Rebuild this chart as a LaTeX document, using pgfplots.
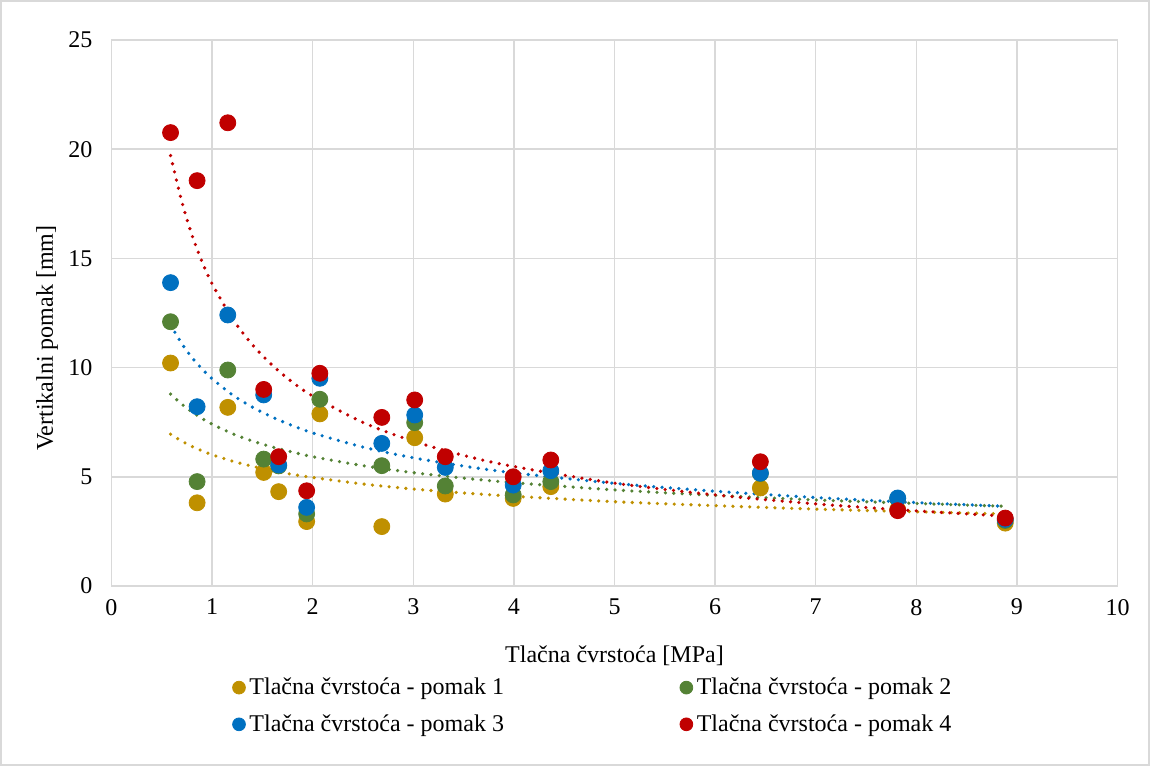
\documentclass[border=0pt]{standalone}
\usepackage{fontspec}
\setmainfont{Liberation Serif}
\usepackage{pgfplots}
\usepackage{pgfplotstable}
\pgfplotsset{compat=1.18}
\definecolor{cA}{HTML}{BF9000}
\definecolor{cB}{HTML}{548235}
\definecolor{cC}{HTML}{0070C0}
\definecolor{cD}{HTML}{C00000}
\definecolor{gridc}{HTML}{D9D9D9}

\pgfplotstableread{
x y1 y2 y3 y4
0.587 10.21 12.10 13.89 20.76
0.851 3.81 4.78 8.21 18.56
1.156 8.18 9.89 12.41 21.21
1.513 5.20 5.81 8.75 9.00
1.662 4.32 5.50 5.54 5.92
1.940 2.95 3.30 3.60 4.36
2.071 7.88 8.55 9.51 9.74
2.687 2.72 5.51 6.53 7.72
3.014 6.79 7.48 7.83 8.52
3.318 4.21 4.58 5.43 5.92
3.993 4.01 4.17 4.62 5.00
4.367 4.55 4.78 5.28 5.77
6.450 4.49 5.15 5.17 5.69
7.815 3.50 4.00 4.03 3.45
8.884 2.88 3.00 3.05 3.11
}\pts

\pgfplotstableread{
x t1 t2 t3 t4
0.587 6.95 8.79 11.95 19.71
0.7 6.63 8.32 11.09 17.58
0.8 6.39 7.97 10.46 16.07
0.9 6.19 7.67 9.94 14.85
1.0 6.01 7.41 9.49 13.84
1.2 5.72 6.98 8.76 12.25
1.4 5.48 6.64 8.19 11.05
1.6 5.28 6.36 7.73 10.10
1.8 5.11 6.13 7.34 9.33
2.0 4.97 5.92 7.01 8.70
2.5 4.67 5.51 6.36 7.49
3.0 4.44 5.19 5.87 6.63
3.5 4.26 4.94 5.49 5.98
4.0 4.11 4.73 5.18 5.47
5.0 3.86 4.40 4.70 4.71
6.0 3.68 4.15 4.34 4.17
7.0 3.52 3.94 4.05 3.76
8.0 3.40 3.78 3.82 3.44
8.884 3.30 3.65 3.65 3.20
}\trend

\begin{document}
\begin{tikzpicture}[font=\fontsize{12}{14.4}\selectfont]
\begin{axis}[
  scale only axis,
  width=503pt, height=273pt,
  xmin=0, xmax=10, ymin=0, ymax=25,
  xtick={0,1,...,10}, ytick={0,5,...,25},
  grid=major,
  major grid style={gridc, line width=0.75pt},
  axis line style={gridc, line width=0.75pt},
  major tick length=0pt,
  tick label style={/pgf/number format/assume math mode=true},
  yticklabel style={xshift=-6pt},
  xticklabel style={yshift=-3pt},
  xlabel={Tlačna čvrstoća [MPa]},
  ylabel={Vertikalni pomak [mm]},
  xlabel style={at={(axis description cs:0.5,-0.127)}, anchor=center},
  ylabel style={at={(axis description cs:-0.0641,0.454)}, anchor=center},
  legend columns=2,
  legend style={draw=none, fill=none, inner sep=0pt,
    at={(axis description cs:0.12,-0.16)}, anchor=north west,
    /tikz/every even column/.append style={column sep=86pt},
    row sep=4.5pt},
  legend image code/.code={\draw[#1, mark size=3.2pt] plot coordinates {(0.1cm,0cm)};},
  legend cell align=left,
]
\addplot[only marks, mark=*, mark size=4pt, mark options={fill=cA, draw=cA}] table[x=x,y=y1]{\pts};
\addlegendentry{Tlačna čvrstoća - pomak 1}
\addplot[only marks, mark=*, mark size=4pt, mark options={fill=cB, draw=cB}] table[x=x,y=y2]{\pts};
\addlegendentry{Tlačna čvrstoća - pomak 2}
\addplot[only marks, mark=*, mark size=4pt, mark options={fill=cC, draw=cC}] table[x=x,y=y3]{\pts};
\addlegendentry{Tlačna čvrstoća - pomak 3}
\addplot[only marks, mark=*, mark size=4pt, mark options={fill=cD, draw=cD}] table[x=x,y=y4]{\pts};
\addlegendentry{Tlačna čvrstoća - pomak 4}
\addplot[forget plot, smooth, no marks, cA, line width=1.8pt, line cap=round, dash pattern=on 0pt off 4.2pt] table[x=x,y=t1]{\trend};
\addplot[forget plot, smooth, no marks, cB, line width=1.8pt, line cap=round, dash pattern=on 0pt off 4.2pt] table[x=x,y=t2]{\trend};
\addplot[forget plot, smooth, no marks, cC, line width=1.8pt, line cap=round, dash pattern=on 0pt off 4.2pt] table[x=x,y=t3]{\trend};
\addplot[forget plot, smooth, no marks, cD, line width=1.8pt, line cap=round, dash pattern=on 0pt off 4.2pt] table[x=x,y=t4]{\trend};
\end{axis}
\draw[gridc, line width=0.75pt] (-55.25pt,-89.5pt) rectangle (518.75pt,292.5pt);
\path[use as bounding box] (-55.75pt,-90pt) rectangle (519.25pt,293pt);
\end{tikzpicture}
\end{document}
